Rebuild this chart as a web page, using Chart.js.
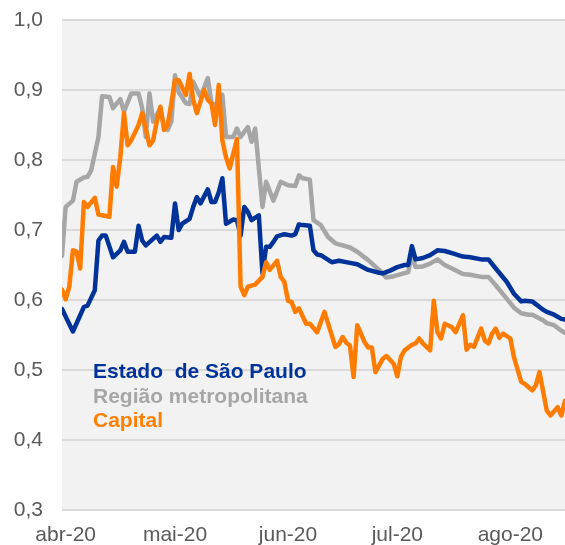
<!DOCTYPE html>
<html>
<head>
<meta charset="utf-8">
<script src="https://cdn.jsdelivr.net/npm/chart.js"></script>
<style>
  html, body { margin: 0; padding: 0; background: #ffffff; }
  canvas { display: block; }
</style>
</head>
<body>
<canvas id="chart" width="565" height="545"></canvas>
<script>
// day 0 = 1 Apr 2020
const tickDays = [0, 30, 61, 91, 122];
const tickLabels = ["abr-20", "mai-20", "jun-20", "jul-20", "ago-20"];

const seriesNames = ["Estado de São Paulo", "Região metropolitana", "Capital"];

const estadoDays = [-1, 2, 5, 6, 8, 9, 10, 11, 13, 15, 16, 17, 19, 20, 21, 22, 25, 26, 27, 29, 30, 31, 32, 34, 35, 36, 37, 39, 40, 41, 42, 43, 44, 46, 47, 48, 49, 50, 51, 53, 54, 55, 56, 57, 58, 60, 62, 63, 64, 65, 67, 68, 69, 70, 73, 75, 78, 80, 83, 86, 87, 89, 91, 93, 94, 95, 96, 98, 100, 102, 104, 106, 109, 111, 114, 116, 118, 121, 123, 125, 126, 128, 131, 132, 134, 136, 137];
const estadoValues = [0.587, 0.555, 0.590, 0.592, 0.614, 0.685, 0.692, 0.692, 0.661, 0.671, 0.683, 0.669, 0.669, 0.706, 0.685, 0.678, 0.692, 0.683, 0.690, 0.689, 0.738, 0.700, 0.709, 0.716, 0.733, 0.747, 0.738, 0.758, 0.740, 0.740, 0.754, 0.774, 0.709, 0.715, 0.714, 0.692, 0.733, 0.726, 0.714, 0.721, 0.638, 0.676, 0.676, 0.683, 0.691, 0.694, 0.692, 0.694, 0.708, 0.707, 0.706, 0.671, 0.665, 0.664, 0.654, 0.656, 0.653, 0.651, 0.643, 0.639, 0.638, 0.642, 0.647, 0.650, 0.650, 0.677, 0.658, 0.660, 0.664, 0.671, 0.670, 0.667, 0.662, 0.661, 0.658, 0.658, 0.645, 0.626, 0.609, 0.598, 0.599, 0.598, 0.586, 0.583, 0.579, 0.573, 0.572];

const regiaoDays = [-1, 0, 2, 3, 5, 6, 7, 9, 10, 12, 13, 15, 16, 18, 20, 21, 22, 23, 24, 26, 27, 28, 29, 30, 31, 33, 34, 35, 37, 39, 40, 42, 43, 44, 46, 47, 48, 50, 51, 52, 54, 55, 57, 59, 61, 63, 64, 65, 67, 68, 70, 72, 74, 76, 78, 80, 83, 86, 88, 90, 92, 94, 95, 96, 98, 100, 102, 104, 106, 109, 111, 114, 116, 118, 121, 123, 125, 127, 128, 131, 132, 134, 136, 137];
const regiaoValues = [0.663, 0.733, 0.742, 0.769, 0.775, 0.776, 0.785, 0.833, 0.891, 0.890, 0.874, 0.887, 0.869, 0.895, 0.895, 0.874, 0.833, 0.895, 0.855, 0.874, 0.847, 0.843, 0.855, 0.921, 0.897, 0.881, 0.880, 0.912, 0.890, 0.917, 0.881, 0.878, 0.893, 0.833, 0.833, 0.845, 0.833, 0.847, 0.826, 0.845, 0.733, 0.769, 0.742, 0.769, 0.764, 0.763, 0.778, 0.774, 0.772, 0.714, 0.707, 0.690, 0.681, 0.678, 0.675, 0.669, 0.657, 0.643, 0.632, 0.634, 0.637, 0.640, 0.665, 0.647, 0.648, 0.652, 0.658, 0.650, 0.645, 0.637, 0.636, 0.633, 0.633, 0.621, 0.602, 0.589, 0.581, 0.579, 0.579, 0.571, 0.567, 0.564, 0.556, 0.553];

const capitalDays = [-1, 0, 1, 2, 3, 4, 5, 6, 8, 9, 10, 12, 13, 14, 15, 16, 17, 18, 20, 21, 23, 24, 25, 26, 27, 28, 29, 30, 31, 33, 34, 35, 36, 38, 39, 40, 41, 42, 43, 44, 45, 47, 48, 49, 50, 52, 54, 55, 56, 58, 59, 60, 61, 62, 63, 64, 66, 67, 69, 71, 74, 75, 76, 77, 78, 79, 80, 82, 83, 84, 85, 87, 88, 90, 91, 92, 93, 95, 96, 97, 98, 100, 101, 102, 103, 104, 106, 107, 109, 110, 111, 112, 114, 115, 116, 117, 118, 119, 120, 122, 123, 125, 126, 128, 129, 130, 132, 133, 135, 136, 137];
const capitalValues = [0.615, 0.601, 0.619, 0.671, 0.669, 0.645, 0.740, 0.733, 0.746, 0.722, 0.721, 0.719, 0.790, 0.762, 0.804, 0.867, 0.821, 0.828, 0.850, 0.867, 0.821, 0.828, 0.855, 0.876, 0.843, 0.850, 0.881, 0.914, 0.914, 0.893, 0.923, 0.886, 0.867, 0.900, 0.886, 0.881, 0.850, 0.907, 0.828, 0.804, 0.788, 0.830, 0.619, 0.607, 0.619, 0.622, 0.633, 0.654, 0.643, 0.656, 0.633, 0.626, 0.599, 0.597, 0.583, 0.588, 0.566, 0.566, 0.554, 0.583, 0.533, 0.537, 0.547, 0.539, 0.535, 0.490, 0.564, 0.540, 0.532, 0.532, 0.497, 0.516, 0.520, 0.509, 0.491, 0.519, 0.528, 0.536, 0.538, 0.545, 0.538, 0.528, 0.599, 0.554, 0.545, 0.566, 0.561, 0.554, 0.578, 0.529, 0.536, 0.533, 0.559, 0.542, 0.538, 0.552, 0.559, 0.546, 0.552, 0.545, 0.518, 0.483, 0.480, 0.471, 0.478, 0.497, 0.442, 0.435, 0.447, 0.435, 0.456];

const BLUE = "#003399";
const GRAY = "#a6a6a6";
const ORANGE = "#ff7c00";

function toPoints(days, values) {
  return days.map((d, i) => ({ x: d, y: values[i] }));
}

// grey plot background
const plotBackground = {
  id: "plotBackground",
  beforeDraw(chart) {
    const { ctx, chartArea: a } = chart;
    ctx.save();
    ctx.fillStyle = "#f2f2f2";
    ctx.fillRect(a.left, a.top, a.right - a.left, a.bottom - a.top);
    ctx.restore();
  }
};

// legend written inside the plot
const innerLegend = {
  id: "innerLegend",
  afterDraw(chart) {
    const ctx = chart.ctx;
    const rows = [
      { text: "Estado  de São Paulo", color: BLUE, y: 378 },
      { text: seriesNames[1], color: GRAY, y: 403 },
      { text: seriesNames[2], color: "#ff7f00", y: 427 }
    ];
    ctx.save();
    ctx.font = "bold 21px 'Liberation Sans', Arial, sans-serif";
    ctx.textAlign = "left";
    ctx.textBaseline = "alphabetic";
    rows.forEach(r => {
      ctx.fillStyle = r.color;
      ctx.fillText(r.text, 93, r.y);
    });
    ctx.restore();
  }
};

new Chart(document.getElementById("chart"), {
  type: "line",
  data: {
    datasets: [
      {
        label: seriesNames[0],
        data: toPoints(estadoDays, estadoValues),
        borderColor: BLUE,
        order: 1
      },
      {
        label: seriesNames[1],
        data: toPoints(regiaoDays, regiaoValues),
        borderColor: GRAY,
        order: 2
      },
      {
        label: seriesNames[2],
        data: toPoints(capitalDays, capitalValues),
        borderColor: ORANGE,
        order: 0
      }
    ]
  },
  options: {
    responsive: false,
    animation: false,
    layout: { padding: { top: 20, right: 0, bottom: 0, left: 0 } },
    elements: {
      point: { radius: 0 },
      line: { borderWidth: 4.5, tension: 0, borderJoinStyle: "round", borderCapStyle: "round", fill: false }
    },
    plugins: {
      legend: { display: false },
      tooltip: { enabled: false }
    },
    scales: {
      x: {
        type: "linear",
        min: -1,
        max: 137,
        grid: { display: false, drawTicks: false },
        border: { display: false },
        afterBuildTicks: scale => {
          scale.ticks = tickDays.map(v => ({ value: v }));
        },
        afterFit: scale => { scale.height = 35; },
        ticks: {
          autoSkip: false,
          maxRotation: 0,
          padding: 13,
          color: "#595959",
          font: { family: "'Liberation Sans', Arial, sans-serif", size: 21 },
          callback: v => tickLabels[tickDays.indexOf(v)]
        }
      },
      y: {
        min: 0.3,
        max: 1.0,
        grid: { color: "#d9d9d9", lineWidth: 2, drawTicks: false },
        border: { display: false },
        afterFit: scale => {
          scale.width = 62;
          scale.paddingTop = 0;
          scale.paddingBottom = 0;
        },
        ticks: {
          stepSize: 0.1,
          padding: 19,
          color: "#595959",
          font: { family: "'Liberation Sans', Arial, sans-serif", size: 21 },
          callback: v => v.toFixed(1).replace(".", ",")
        }
      }
    }
  },
  plugins: [plotBackground, innerLegend]
});
</script>
</body>
</html>
